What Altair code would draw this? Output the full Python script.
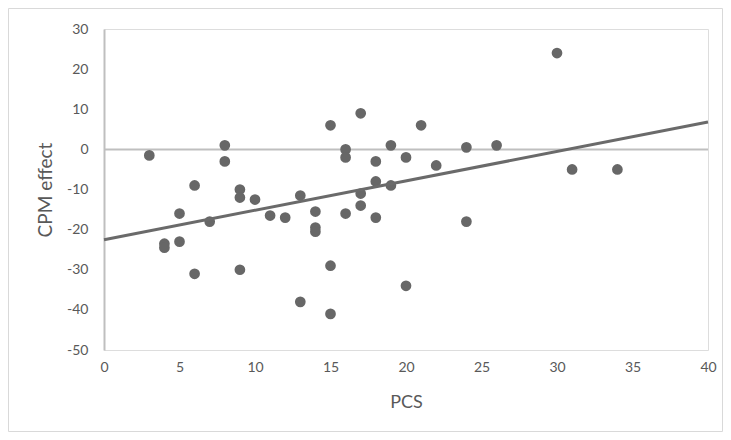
import altair as alt
import pandas as pd

# PCS (x) and CPM effect (y)
pcs = [3, 4, 4, 5, 5, 6, 6, 7, 8, 8, 9, 9, 9, 10, 11, 12, 13, 13, 14, 14, 14,
       15, 15, 15, 16, 16, 16, 17, 17, 17, 18, 18, 18, 19, 19, 20, 20, 21, 22,
       24, 24, 26, 30, 31, 34]
cpm = [-1.5, -23.5, -24.5, -16, -23, -9, -31, -18, 1, -3, -10, -12, -30, -12.5,
       -16.5, -17, -11.5, -38, -15.5, -19.5, -20.5,
       6, -29, -41, 0, -2, -16, 9, -11, -14, -3, -8, -17, 1, -9, -2, -34, 6, -4,
       0.5, -18, 1, 24, -5, -5]

# Linear trend line endpoints
trend_x = [0, 40]
trend_y = [-22.5, 6.8]

zero_x = [0, 40]
zero_y = [0, 0]

pts = pd.DataFrame({"PCS": pcs, "CPM effect": cpm})
trend = pd.DataFrame({"PCS": trend_x, "CPM effect": trend_y})
zero = pd.DataFrame({"PCS": zero_x, "CPM effect": zero_y})

FONT = "Lato"
LABEL = "#595959"

xscale = alt.Scale(domain=[0, 40], nice=False, zero=False)
yscale = alt.Scale(domain=[-50, 30], nice=False, zero=False)

xaxis = alt.Axis(values=list(range(0, 41, 5)), grid=False, domain=False, ticks=False,
                 labelFlush=False, labelOverlap=False,
                 labelPadding=10, labelFontSize=14, labelColor=LABEL, labelFont=FONT,
                 title="PCS", titleFontSize=18, titleColor=LABEL, titleFont=FONT,
                 titleFontWeight="normal", titlePadding=19)
yaxis = alt.Axis(values=list(range(-50, 31, 10)), grid=False, domain=True,
                 domainColor="#bfbfbf", domainWidth=2, ticks=False,
                 labelFlush=False, labelOverlap=False,
                 labelExpr="datum.value + ''",
                 labelPadding=16, labelFontSize=14, labelColor=LABEL, labelFont=FONT,
                 title="CPM effect", titleFontSize=19, titleColor=LABEL, titleFont=FONT,
                 titleFontWeight="normal", titlePadding=11)

border = alt.Chart(pd.DataFrame({"a": [1]})).mark_rect(
    fill=None, stroke="#d9d9d9", strokeWidth=1, clip=False
).encode(x=alt.value(-95.5), x2=alt.value(618.5), y=alt.value(-20.5), y2=alt.value(402.5))

zline = alt.Chart(zero).mark_line(color="#bfbfbf", strokeWidth=2).encode(
    x=alt.X("PCS:Q", scale=xscale, axis=xaxis),
    y=alt.Y("CPM effect:Q", scale=yscale, axis=yaxis),
)

points = alt.Chart(pts).mark_circle(size=115, color="#676767", opacity=1).encode(
    x=alt.X("PCS:Q", scale=xscale),
    y=alt.Y("CPM effect:Q", scale=yscale),
)

tline = alt.Chart(trend).mark_line(color="#6a6a6a", strokeWidth=3).encode(
    x=alt.X("PCS:Q", scale=xscale),
    y=alt.Y("CPM effect:Q", scale=yscale),
)

chart = alt.layer(border, zline, points, tline).properties(
    width=604, height=321,
    padding={"left": 96, "top": 21, "right": 15, "bottom": 82},
    autosize=alt.AutoSizeParams(type="none"),
).configure_view(stroke=None).configure(background="white")

chart.save("out.html", embed_options={"renderer": "svg", "actions": False})
